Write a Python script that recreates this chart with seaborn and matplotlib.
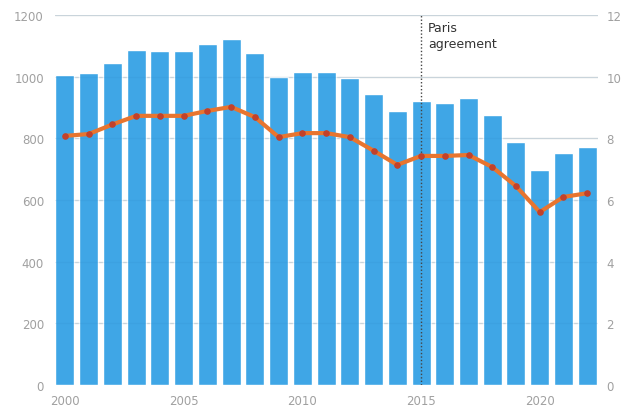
"""
plot.py

Bar chart of annual values (left axis) with an overlaid line (right axis),
marking the Paris agreement year.
"""

import numpy as np
import pandas as pd
import matplotlib

matplotlib.use("Agg")
import matplotlib.pyplot as plt
import seaborn as sns

# Data
years = list(range(2000, 2023))
bar_values = [1005, 1012, 1044, 1087, 1083, 1083, 1106, 1122, 1077, 999,
              1015, 1015, 996, 944, 889, 921, 915, 931, 876, 788,
              697, 752, 772]
line_values = [8.08, 8.14, 8.45, 8.73, 8.73, 8.73, 8.89, 9.02, 8.69, 8.04,
               8.17, 8.17, 8.04, 7.6, 7.14, 7.43, 7.43, 7.46, 7.07, 6.45,
               5.61, 6.1, 6.22]
left_ticks = [0, 200, 400, 600, 800, 1000, 1200]
right_ticks = [0, 2, 4, 6, 8, 10, 12]
year_ticks = [2000, 2005, 2010, 2015, 2020]

# Style
BAR_COLOR = "#3fa6e6"
LINE_COLOR = "#e8752f"
DOT_COLOR = "#c2412a"
TICK_COLOR = "#a0a0a0"
GRID_COLOR = "#e0e0e0"
TICK_FONTSIZE = 8.5

sns.set_style("white")
plt.rcParams["font.family"] = ["DejaVu Sans"]

df = pd.DataFrame({"year": years, "bars": bar_values, "line": line_values})

fig = plt.figure(figsize=(6.25, 4.14), dpi=100)
ax = fig.add_axes([0.088, 0.0676, 0.869, 0.8937])

sns.barplot(data=df, x="year", y="bars", native_scale=True, color=BAR_COLOR,
            saturation=1, width=0.8, ax=ax, zorder=2)

ax.set_xlim(1999.58, 2022.46)
ax.set_ylim(0, 1200)
ax.set_yticks(left_ticks)
ax.set_xticks(year_ticks)
ax.set_xticklabels([str(y) for y in year_ticks])
ax.set_xlabel("")
ax.set_ylabel("")
for y in left_ticks[1:]:
    ax.axhline(y, color=GRID_COLOR, lw=1, zorder=1)
    ax.axhline(y, color="#2a7fbf", lw=0.8, alpha=0.12, zorder=3)
ax.tick_params(axis="both", colors=TICK_COLOR, labelsize=TICK_FONTSIZE,
               length=3, width=0.6)
ax.tick_params(axis="y", length=0, pad=8)
for spine in ax.spines.values():
    spine.set_visible(False)

# Paris agreement marker
ax.axvline(2015, color="#444444", lw=1, ls=(0, (1, 1.5)), zorder=4)
ax.text(2015.3, 1180, "Paris\nagreement", fontsize=9, color="#333333",
        va="top", ha="left", linespacing=1.3)

# Line on right axis
ax2 = ax.twinx()
sns.lineplot(data=df, x="year", y="line", color=LINE_COLOR, lw=3, ax=ax2,
             zorder=5)
ax2.scatter(df["year"], df["line"], s=14, color=DOT_COLOR, zorder=6)
ax2.set_ylim(0, 12)
ax2.set_yticks(right_ticks)
ax2.set_xlabel("")
ax2.set_ylabel("")
ax2.tick_params(axis="y", colors=TICK_COLOR, labelsize=TICK_FONTSIZE,
                length=0, pad=6)
for spine in ax2.spines.values():
    spine.set_visible(False)
ax2.grid(False)

fig.savefig("out.png", dpi=100)
